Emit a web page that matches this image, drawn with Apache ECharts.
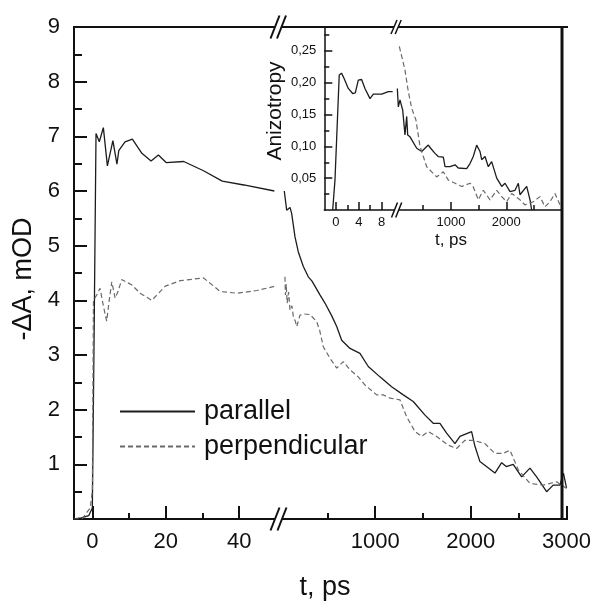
<!DOCTYPE html>
<html><head><meta charset="utf-8">
<script src="https://cdn.jsdelivr.net/npm/echarts@6/dist/echarts.min.js"></script>
<style>html,body{margin:0;padding:0;background:#fff}#c{width:595px;height:602px}</style>
</head><body><div id="c"></div>
<script>
// ---------- data (t in ps, value) ----------
const mainParallelEarly = [[-5,0],[-3,0.02],[-1,0.06],[0,0.2],[0.5,3.5],[1.0,7.05],[1.9,6.9],[3.0,7.16],[4.1,6.46],[5.6,6.92],[6.7,6.49],[7.2,6.74],[8.9,6.9],[10.9,6.95],[13.5,6.69],[16.0,6.55],[18.0,6.66],[20.1,6.52],[24.9,6.54],[30.3,6.37],[35.4,6.18],[41.3,6.11],[49.6,6.0]];
const mainPerpEarly = [[-5,0],[-2.8,0.0],[-1.5,0.12],[-0.6,0.2],[0,0.5],[0.3,4.0],[1.2,4.1],[2.1,4.22],[3.0,3.9],[3.9,3.62],[4.6,4.0],[5.3,4.34],[6.2,4.04],[7.0,4.16],[8.0,4.38],[10.8,4.28],[13.0,4.13],[16.2,4.0],[19.9,4.26],[24.0,4.36],[30.3,4.41],[34.9,4.16],[39.5,4.13],[44.9,4.18],[49.9,4.26]];
const mainParallelLate = [[50,6.0],[75,5.65],[110,5.7],[127,5.59],[162,5.16],[180,5.13],[196,4.89],[249,4.62],[301,4.43],[340,4.35],[423,4.10],[475,3.95],[545,3.72],[598,3.52],[650,3.27],[737,3.12],[841,3.03],[928,2.79],[1050,2.60],[1172,2.42],[1294,2.27],[1398,2.15],[1521,1.90],[1607,1.75],[1677,1.75],[1747,1.57],[1834,1.38],[1886,1.51],[2008,1.60],[2040,1.35],[2095,1.05],[2252,0.84],[2322,1.03],[2370,0.96],[2443,1.0],[2531,0.77],[2618,0.93],[2688,0.77],[2792,0.50],[2861,0.62],[2931,0.62],[2968,0.84],[3000,0.57]];
const mainPerpLate = [[57,4.43],[62,4.1],[70,4.3],[80,3.95],[95,4.15],[110,3.82],[130,3.9],[145,3.70],[165,3.62],[180,3.52],[214,3.73],[260,3.75],[319,3.74],[389,3.61],[420,3.45],[458,3.15],[528,2.94],[598,2.76],[667,2.88],[737,2.73],[823,2.60],[894,2.45],[1016,2.27],[1085,2.27],[1155,2.21],[1259,2.18],[1329,1.87],[1416,1.60],[1486,1.51],[1555,1.60],[1643,1.51],[1764,1.35],[1851,1.29],[1939,1.44],[2025,1.44],[2147,1.38],[2252,1.20],[2339,1.20],[2409,1.26],[2496,0.90],[2618,0.65],[2757,0.62],[2897,0.68],[3000,0.56]];
const insetSolidEarly = [[-0.54,0.0],[-0.14,0.047],[0.6,0.212],[1.0,0.215],[1.43,0.207],[2.18,0.191],[2.94,0.183],[3.4,0.184],[3.92,0.204],[4.5,0.205],[5.08,0.191],[5.96,0.175],[6.54,0.182],[8.0,0.182],[9.15,0.186],[9.9,0.186]];
const insetSolidLate = [[33,0.191],[51,0.162],[81,0.173],[130,0.157],[171,0.118],[202,0.147],[220,0.118],[262,0.115],[383,0.097],[473,0.092],[532,0.097],[592,0.102],[635,0.097],[713,0.089],[772,0.084],[863,0.083],[894,0.068],[984,0.068],[1074,0.071],[1134,0.066],[1285,0.065],[1345,0.073],[1404,0.084],[1465,0.102],[1525,0.092],[1556,0.079],[1616,0.084],[1675,0.068],[1736,0.076],[1827,0.050],[1917,0.037],[1977,0.042],[2067,0.029],[2157,0.031],[2217,0.042],[2247,0.024],[2368,0.037],[2428,0.016],[2458,0.0]];
const insetDashedLate = [[69,0.257],[171,0.22],[231,0.186],[292,0.16],[370,0.141],[442,0.10],[502,0.084],[563,0.068],[653,0.060],[743,0.052],[863,0.060],[953,0.047],[1074,0.042],[1194,0.037],[1345,0.042],[1400,0.037],[1495,0.016],[1585,0.031],[1706,0.016],[1827,0.031],[1917,0.021],[2007,0.013],[2097,0.026],[2247,0.016],[2337,0.008],[2488,0.013],[2608,0.021],[2698,0.005],[2789,0.013],[2879,0.026],[2969,0.008]];

// ---------- tick values ----------
const mainYMajor = [1,2,3,4,5,6,7,8,9];
const mainYMinor = [0.5,1.5,2.5,3.5,4.5,5.5,6.5,7.5,8.5];
const mainXEarlyMajor = [0,20,40];
const mainXEarlyMinor = [10,30];
const mainXLateMajor = [1000,2000,3000];
const mainXLateMinor = [500,1500,2500];
const insetYMajor = [0.05,0.10,0.15,0.20,0.25];
const insetYMinor = [0.025,0.075,0.125,0.175,0.225,0.275];
const insetXEarlyMajor = [0,4,8];
const insetXEarlyMinor = [2,6];
const insetXLateMajor = [1000,2000];
const insetXLateMinor = [500,1500,2500];

const FONT = '"Liberation Sans", Arial, Helvetica, sans-serif';
const BLACK = '#111';
const GRAY = '#6a6a6a';

function xAx(gi, min, max, ticks, labels, len, fs, w, margin) {
  return {
    type: 'value', gridIndex: gi, min: min, max: max, position: 'bottom',
    axisLine: { show: labels !== null, onZero: false, lineStyle: { color: BLACK, width: w } },
    axisTick: { show: true, inside: true, length: len, customValues: ticks, lineStyle: { color: BLACK, width: w } },
    axisLabel: labels ? { show: true, customValues: labels, fontSize: fs, fontFamily: FONT, color: BLACK, margin: margin, formatter: v => String(v) } : { show: false },
    splitLine: { show: false }
  };
}
function yAx(gi, min, max, ticks, labels, len, fs, w, margin, fmt) {
  return {
    type: 'value', gridIndex: gi, min: min, max: max, position: 'left',
    axisLine: { show: labels !== null, onZero: false, lineStyle: { color: BLACK, width: w } },
    axisTick: { show: true, inside: true, length: len, customValues: ticks, lineStyle: { color: BLACK, width: w } },
    axisLabel: labels ? { show: true, customValues: labels, fontSize: fs, fontFamily: FONT, color: BLACK, margin: margin, formatter: fmt } : { show: false },
    splitLine: { show: false }
  };
}
function hidden(gi, min, max) {
  return { type: 'value', gridIndex: gi, min: min, max: max, show: false, splitLine: { show: false } };
}

const chart = echarts.init(document.getElementById('c'));

function slash(cx, cy, dx, dy, w) {
  return { type: 'line', z: 101, shape: { x1: cx - dx, y1: cy + dy, x2: cx + dx, y2: cy - dy }, style: { stroke: BLACK, lineWidth: w } };
}
function gap(x1, x2, cy, h) {
  return { type: 'rect', z: 100, shape: { x: x1, y: cy - h, width: x2 - x1, height: 2 * h }, style: { fill: '#fff' } };
}

const lineSeries = (name, xi, yi, data, dashed, color, width) => ({
  name: name, type: 'line', xAxisIndex: xi, yAxisIndex: yi, data: data,
  symbol: 'none', showSymbol: false, animation: false, clip: true,
  lineStyle: { color: color, width: width, type: dashed ? [5, 3] : 'solid' },
  itemStyle: { color: color }
});

chart.setOption({
  animation: false,
  backgroundColor: '#fff',
  textStyle: { fontFamily: FONT },
  grid: [
    { left: 74, top: 27, width: 205.5, height: 492 },
    { left: 279.5, top: 27, width: 287, height: 492 },
    { left: 324.3, top: 27, width: 71.2, height: 183 },
    { left: 395.5, top: 27, width: 166.2, height: 183 }
  ],
  xAxis: [
    xAx(0, -5, 51, mainXEarlyMajor, mainXEarlyMajor, 13, 22, 2, 12),
    xAx(0, -5, 51, mainXEarlyMinor, null, 6, 22, 2, 12),
    xAx(1, 0, 3000, mainXLateMajor, mainXLateMajor, 13, 22, 2, 12),
    xAx(1, 0, 3000, mainXLateMinor, null, 6, 22, 2, 12),
    xAx(2, -2, 10.4, insetXEarlyMajor, insetXEarlyMajor, 8, 13, 1.5, 6),
    xAx(2, -2, 10.4, insetXEarlyMinor, null, 5, 13, 1.5, 6),
    xAx(3, 0, 3000, insetXLateMajor, insetXLateMajor, 8, 13, 1.5, 6),
    xAx(3, 0, 3000, insetXLateMinor, null, 5, 13, 1.5, 6)
  ],
  yAxis: [
    yAx(0, 0, 9, mainYMajor, mainYMajor, 13, 22, 2, 14, v => String(v)),
    yAx(0, 0, 9, mainYMinor, null, 8, 22, 2, 14),
    hidden(1, 0, 9),
    yAx(2, 0, 0.2875, insetYMajor, insetYMajor, 8, 13, 1.5, 8, v => v.toFixed(2).replace('.', ',')),
    yAx(2, 0, 0.2875, insetYMinor, null, 5, 13, 1.5, 8),
    hidden(3, 0, 0.2875)
  ],
  legend: {
    data: ['parallel', 'perpendicular'],
    orient: 'vertical', left: 114, top: 393,
    itemWidth: 75, itemHeight: 14, itemGap: 8,
    selectedMode: false,
    itemStyle: { opacity: 0 },
    textStyle: { fontSize: 27, fontFamily: FONT, color: BLACK, padding: [0, 0, 0, 4] }
  },
  series: [
    lineSeries('parallel', 0, 0, mainParallelEarly, false, '#1c1c1c', 1.3),
    lineSeries('perpendicular', 0, 0, mainPerpEarly, true, GRAY, 1.2),
    lineSeries('parallel', 2, 2, mainParallelLate, false, '#1c1c1c', 1.3),
    lineSeries('perpendicular', 2, 2, mainPerpLate, true, GRAY, 1.2),
    lineSeries('anizotropy', 4, 3, insetSolidEarly, false, '#1c1c1c', 1.3),
    lineSeries('anizotropy', 6, 5, insetSolidLate, false, '#1c1c1c', 1.3),
    lineSeries('anizotropy (perp)', 6, 5, insetDashedLate, true, GRAY, 1.2)
  ],
  graphic: [
    { type: 'line', z: 99, shape: { x1: 73, y1: 27, x2: 568, y2: 27 }, style: { stroke: BLACK, lineWidth: 2 } },
    { type: 'line', z: 99, shape: { x1: 562, y1: 26, x2: 562, y2: 520 }, style: { stroke: BLACK, lineWidth: 3 } },
    { type: 'line', z: 99, shape: { x1: 560, y1: 519, x2: 568, y2: 519 }, style: { stroke: BLACK, lineWidth: 2 } },
    { type: 'line', z: 99, shape: { x1: 567, y1: 506, x2: 567, y2: 519 }, style: { stroke: BLACK, lineWidth: 2 } },
    gap(275, 281.5, 27, 2), slash(275, 27, 4.5, 11.5, 2), slash(281.5, 27, 4.5, 11.5, 2),
    gap(275, 282, 519, 2), slash(275, 519, 4.5, 11.5, 2), slash(282, 519, 4.5, 11.5, 2),
    gap(394, 398.2, 27, 1.5), slash(394, 27, 3, 7, 1.5), slash(398.2, 27, 3, 7, 1.5),
    gap(394.5, 398.7, 210, 1.5), slash(394.5, 210, 3, 7.5, 1.5), slash(398.7, 210, 3, 7.5, 1.5),
    { type: 'text', z: 102, x: 24, y: 279, rotation: Math.PI / 2,
      style: { text: '-ΔA, mOD', fontSize: 27, fontFamily: FONT, fill: BLACK, textAlign: 'center', textVerticalAlign: 'middle' } },
    { type: 'text', z: 102, x: 325, y: 588,
      style: { text: 't, ps', fontSize: 27, fontFamily: FONT, fill: BLACK, textAlign: 'center', textVerticalAlign: 'middle' } },
    { type: 'text', z: 102, x: 275, y: 111, rotation: Math.PI / 2,
      style: { text: 'Anizotropy', fontSize: 21, fontFamily: FONT, fill: BLACK, textAlign: 'center', textVerticalAlign: 'middle' } },
    { type: 'text', z: 102, x: 451, y: 240,
      style: { text: 't, ps', fontSize: 17, fontFamily: FONT, fill: BLACK, textAlign: 'center', textVerticalAlign: 'middle' } }
  ]
});
</script></body></html>
